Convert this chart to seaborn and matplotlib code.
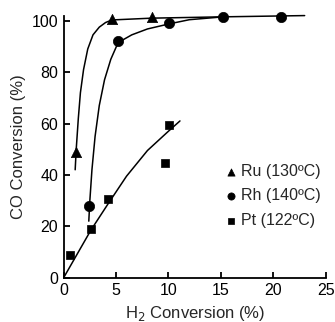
import matplotlib
matplotlib.use("Agg")
import matplotlib.pyplot as plt
import seaborn as sns
import pandas as pd

# measured points
ru_x = [1.2, 4.6, 8.4]
ru_y = [49, 100.5, 101.5]
rh_x = [2.4, 5.2, 10.1, 15.2, 20.7]
rh_y = [28, 92, 99, 101.5, 101.3]
pt_x = [0.6, 2.6, 4.2, 9.7, 10.1]
pt_y = [9, 19, 30.5, 44.5, 59.5]

# hand-drawn trend curves
ru_curve_x = [1.1, 1.2, 1.4, 1.6, 1.9, 2.3, 2.8, 3.4, 4.0, 4.6, 8.4, 15, 23]
ru_curve_y = [42, 50, 62, 72, 81, 89, 94.5, 97.5, 99.3, 100.3, 101, 101.5, 102]
rh_curve_x = [2.4, 2.5, 2.7, 3.0, 3.4, 3.9, 4.5, 5.2, 6.5, 8.0, 10.1, 12.0, 15.2]
rh_curve_y = [22, 30, 42, 55, 67, 77, 85, 91.5, 94.5, 96.8, 98.8, 100.4, 101.5]
pt_curve_x = [0.0, 2.6, 4.2, 6.0, 8.0, 10.0, 11.1]
pt_curve_y = [0.0, 18.5, 28.5, 39.5, 49.5, 57.0, 61.0]

labels = ["Ru (130ºC)", "Rh (140ºC)", "Pt (122ºC)"]
x_ticks = [0, 5, 10, 15, 20, 25]
y_ticks = [0, 20, 40, 60, 80, 100]

sns.set_style("ticks")
plt.rcParams["font.family"] = ["Liberation Sans", "DejaVu Sans"]

fig = plt.figure(figsize=(3.35, 3.22), dpi=100)
ax = fig.add_axes([0.19, 0.1376, 0.782, 0.814])

for cx, cy in [(ru_curve_x, ru_curve_y), (rh_curve_x, rh_curve_y), (pt_curve_x, pt_curve_y)]:
    sns.lineplot(x=cx, y=cy, ax=ax, color="black", linewidth=1.1, sort=False,
                 estimator=None, legend=False)
    ax.lines[-1].set_clip_on(False)

for xs, ys, m, s, lab in [(ru_x, ru_y, "^", 55, labels[0]),
                           (rh_x, rh_y, "o", 55, labels[1]),
                           (pt_x, pt_y, "s", 40, labels[2])]:
    sns.scatterplot(x=xs, y=ys, ax=ax, marker=m, s=s, color="black",
                    edgecolor="black", linewidth=0.5, label=lab, clip_on=False, zorder=3)

ax.set_xlim(0, 25)
ax.set_ylim(0, 102)
ax.set_xticks(x_ticks)
ax.set_yticks(y_ticks)
ax.tick_params(direction="in", length=4, width=1.3, labelsize=11.5, pad=4, colors="black")
for sp in ["top", "right"]:
    ax.spines[sp].set_visible(False)
for sp in ["left", "bottom"]:
    ax.spines[sp].set_linewidth(1.3)
    ax.spines[sp].set_color("black")

ax.set_xlabel("H$_2$ Conversion (%)", fontsize=12, labelpad=4)
ax.set_ylabel("CO Conversion (%)", fontsize=12, labelpad=4)

leg = ax.legend(loc="upper left", bbox_to_anchor=(0.58, 0.465), frameon=False,
                fontsize=11.5, handletextpad=0.2, labelspacing=0.6, borderpad=0,
                handlelength=0.9, markerscale=0.7)

fig.savefig("out.png", dpi=100)
